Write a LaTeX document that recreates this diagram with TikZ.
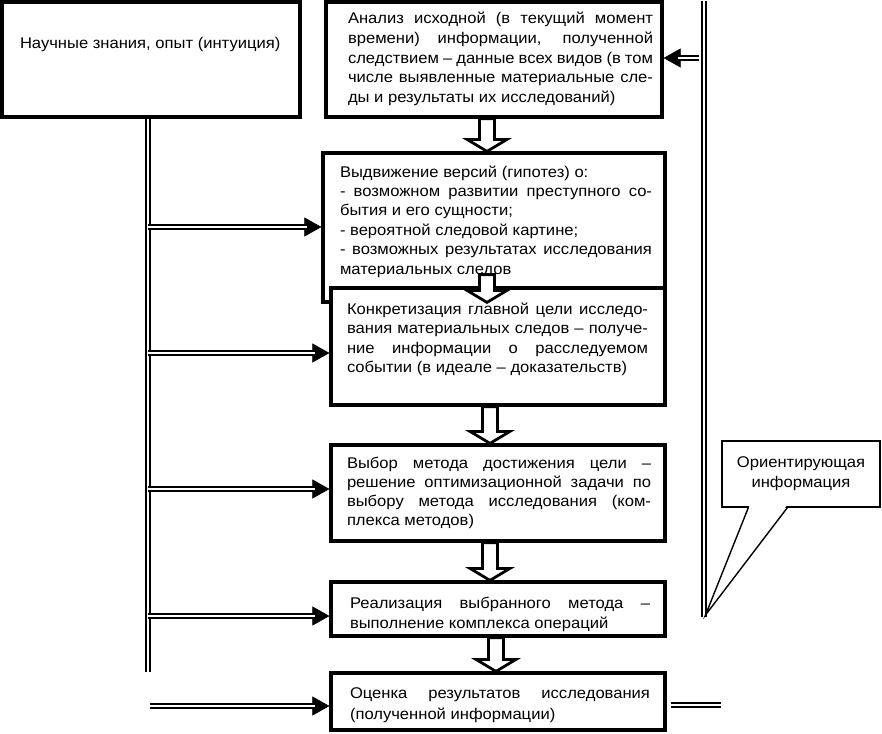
\documentclass[tikz,border=0pt]{standalone}
\usepackage{fontspec}
\setmainfont{Liberation Sans}[FakeStretch=1.07]
\usetikzlibrary{arrows.meta,calc}
\newlength{\btw}
\newcommand{\JL}[1]{\rule{0pt}{14pt}\makebox[\btw][s]{#1}\par}
\newcommand{\PL}[1]{\rule{0pt}{14pt}\mbox{#1}\par}
% W H lpad baseline1 textwidth baselineskip lines
\newcommand{\boxtext}[7]{\parbox[c][#2pt][t]{#1pt}{\parindent=0pt\parskip=0pt\leftskip=#3pt\relax\setlength{\btw}{#5pt}\fontsize{15.5}{#6}\selectfont\vspace*{\dimexpr#4pt-14pt\relax}#7}}
% from, to, x centre, start shift up, tip shift down
\newcommand{\blockarrow}[5]{%
  \draw[blk] let \p1=(#1.south), \p2=(#2.north) in
    ({(#3-7.5)*1pt},{\y1+#4pt}) -- ({(#3-7.5)*1pt},{\y2-#5pt+12pt}) --
    ({(#3-20)*1pt},{\y2-#5pt+12pt}) -- ({#3*1pt},{\y2-#5pt}) --
    ({(#3+20)*1pt},{\y2-#5pt+12pt}) -- ({(#3+7.5)*1pt},{\y2-#5pt+12pt}) --
    ({(#3+7.5)*1pt},{\y1+#4pt}) -- cycle;}
\begin{document}
\begin{tikzpicture}[x=1pt,y=-1pt,
  box/.style={draw,line width=3.2pt,fill=white,inner sep=0pt,rectangle},
  blk/.style={draw,line width=2.8pt,fill=white,line join=miter},
  dbl/.style={double,double distance=2pt,line width=1.7pt},
  tipln/.style={line width=0.6pt,-{Triangle[length=17pt,width=19pt]}},
  bubble/.style={draw,line width=1.4pt,fill=white,align=center,inner sep=0pt,font=\fontsize{15.5}{20}\selectfont}]
\fill[white] (0,0) rectangle (882,733);
\useasboundingbox (0,0) rectangle (882,733);

\node[box] (A) at (151,59.5) {\boxtext{298}{115}{18}{47}{260}{19.5}{%
  \PL{Научные знания, опыт (интуиция)}}};

\node[box] (B) at (494,59.5) {\boxtext{336}{115}{22}{22}{305}{19.6}{%
  \JL{Анализ исходной (в текущий момент}
  \JL{времени) информации, полученной}
  \JL{следствием – данные всех видов (в том}
  \JL{числе выявленные материальные сле-}
  \PL{ды и результаты их исследований)}}};

\node[box] (C) at (494,227.5) {\boxtext{342}{149}{17}{24}{312}{19.4}{%
  \PL{Выдвижение версий (гипотез) о:}
  \JL{- возможном развитии преступного со-}
  \PL{бытия и его сущности;}
  \PL{- вероятной следовой картине;}
  \JL{- возможных результатах исследования}
  \PL{материальных следов}}};

\node[box] (D) at (498,346.5) {\boxtext{334}{117}{16}{26}{301}{19.5}{%
  \JL{Конкретизация главной цели исследо-}
  \JL{вания материальных следов – получе-}
  \JL{ние информации о расследуемом}
  \PL{событии (в идеале – доказательств)}}};

\node[box] (E) at (498,493) {\boxtext{334}{96}{16}{23}{304}{19.3}{%
  \JL{Выбор метода достижения цели –}
  \JL{решение оптимизационной задачи по}
  \JL{выбору метода исследования (ком-}
  \PL{плекса методов)}}};

\node[box] (F) at (498,609) {\boxtext{334}{54}{19}{26}{300}{20}{%
  \JL{Реализация выбранного метода –}
  \PL{выполнение комплекса операций}}};

\node[box] (G) at (498,701.5) {\boxtext{334}{57}{19}{25}{300}{21.5}{%
  \JL{Оценка результатов исследования}
  \PL{(полученной информации)}}};

\blockarrow{B}{C}{487}{0}{0}
\blockarrow{C}{D}{487}{29}{16}
\blockarrow{D}{E}{490}{0}{0}
\blockarrow{E}{F}{490}{0}{0}
\blockarrow{F}{G}{496}{0}{0}

% left vertical line and branches
\coordinate (lb) at (148,672);
\draw[dbl] (A.south -| lb) -- (lb);
\coordinate (jc) at (148,227);
\coordinate (jd) at (148,353);
\coordinate (je) at (148,489);
\coordinate (jf) at (148,616);
\coordinate (jg) at (150,706);
\foreach \j/\t in {jc/C,jd/D,je/E,jf/F,jg/G}{
  \draw[tipln] (\j) -- (\j -| \t.west);
  \draw[dbl,shorten >=14pt] (\j) -- (\j -| \t.west);
}

% right side
\node[bubble,minimum width=158pt,minimum height=66pt] (bub) at (801,474) {Ориентирующая\\информация};
\coordinate (rt) at (704,1);
\coordinate (rbm) at (704,617);
\draw[dbl] (rt) -- (rbm);
\coordinate (ptip) at (705.5,615);
\fill[white] ([xshift=28pt,yshift=1.5pt]bub.south west) -- (ptip) -- ([xshift=65pt,yshift=1.5pt]bub.south west) -- cycle;
\draw[line width=1.4pt,line join=miter] ([xshift=27pt]bub.south west) -- (ptip) -- ([xshift=66pt]bub.south west);

\coordinate (rb) at (699,58);
\draw[tipln] (rb) -- (rb -| B.east);
\draw[dbl,shorten >=14pt] (rb) -- (rb -| B.east);

\coordinate (gr) at (721,705);
\draw[dbl] ($(G.east |- gr)+(4,0)$) -- (gr);
\end{tikzpicture}
\end{document}
